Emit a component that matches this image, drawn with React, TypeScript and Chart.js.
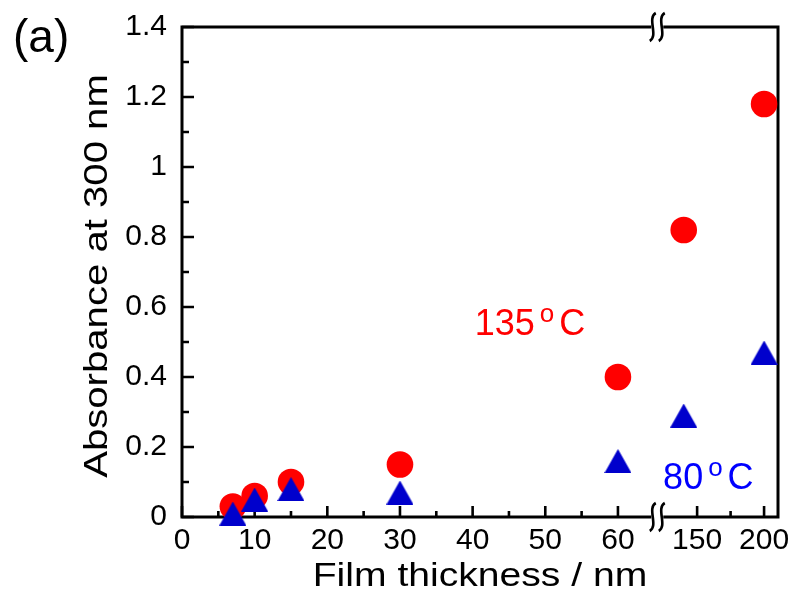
import React, { useEffect, useRef } from 'react';
import { Chart, registerables, LinearScale } from 'chart.js';

const FONT = '"Liberation Sans", Arial, Helvetica, sans-serif';

// ---- data (film thickness in nm, absorbance at 300 nm) ----
const thickness = [7, 10, 15, 30, 60, 140, 200];
const abs135 = [0.03, 0.06, 0.1, 0.15, 0.4, 0.82, 1.18];
const abs80 = [0.01, 0.05, 0.08, 0.07, 0.16, 0.29, 0.47];

// ---- axis ticks ----
const xMajorTicks = [0, 10, 20, 30, 40, 50, 60, 150, 200];
const xMinorTicks = [5, 15, 25, 35, 45, 55, 175];
const yMajorTicks = [0, 0.2, 0.4, 0.6, 0.8, 1, 1.2, 1.4];
const yMinorTicks = [0.1, 0.3, 0.5, 0.7, 0.9, 1.1, 1.3];
const xBreak = [65, 118];
const xRange = [0, 210.4];
const yRange = [0, 1.4];
const upperDensity = 0.1843; // relative axis density after the break

const labels = ['135', '80'];
const labelColors = ['#FF0000', '#0000FF'];
const labelAnchors = [
  { x: 40.3, y: 0.52 },
  { x: 124.6, y: 0.08 },
];

function toVirtual(v: number) {
  if (v <= xBreak[0]) return v;
  if (v >= xBreak[1]) return xBreak[0] + (v - xBreak[1]) * upperDensity;
  return xBreak[0];
}

class BrokenLinearScale extends LinearScale {
  static id = 'brokenLinear';
  static defaults = {};
  getPixelForValue(value: number) {
    const vmin = toVirtual(this.min);
    const vmax = toVirtual(this.max);
    return this.getPixelForDecimal((toVirtual(value) - vmin) / (vmax - vmin));
  }
  getValueForPixel(pixel: number) {
    const vmin = toVirtual(this.min);
    const vmax = toVirtual(this.max);
    const v = vmin + this.getDecimalForPixel(pixel) * (vmax - vmin);
    return v <= xBreak[0] ? v : xBreak[1] + (v - xBreak[0]) / upperDensity;
  }
  buildTicks() {
    return xMajorTicks.map((value) => ({ value }));
  }
}

Chart.register(...registerables, BrokenLinearScale);

function makeTriangle(color: string, w: number, h: number) {
  const c = document.createElement('canvas');
  c.width = w;
  c.height = h;
  const g = c.getContext('2d')!;
  g.fillStyle = color;
  g.beginPath();
  g.moveTo(w / 2, 0);
  g.lineTo(w, h);
  g.lineTo(0, h);
  g.closePath();
  g.fill();
  return c;
}

function drawBreak(ctx: CanvasRenderingContext2D, cx: number, cy: number) {
  ctx.save();
  ctx.fillStyle = '#fff';
  ctx.fillRect(cx - 6, cy - 3, 12, 6);
  ctx.strokeStyle = '#000';
  ctx.lineWidth = 2.6;
  for (const dx of [-4.5, 4.5]) {
    ctx.beginPath();
    ctx.moveTo(cx + dx + 3, cy - 14);
    ctx.bezierCurveTo(cx + dx - 6, cy - 9, cx + dx + 6, cy + 9, cx + dx - 3, cy + 14);
    ctx.stroke();
  }
  ctx.restore();
}

const framePlugin = {
  id: 'frame',
  beforeDatasetsDraw(chart: any) {
    const { ctx, chartArea: a, scales } = chart;
    const x = scales.x;
    const y = scales.y;
    ctx.save();
    ctx.strokeStyle = '#000';
    ctx.lineWidth = 2.6;
    ctx.beginPath();
    xMajorTicks.forEach((v) => {
      const px = x.getPixelForValue(v);
      ctx.moveTo(px, a.bottom);
      ctx.lineTo(px, a.bottom - 11);
    });
    xMinorTicks.forEach((v) => {
      const px = x.getPixelForValue(v);
      ctx.moveTo(px, a.bottom);
      ctx.lineTo(px, a.bottom - 6);
    });
    yMajorTicks.forEach((v) => {
      const py = y.getPixelForValue(v);
      ctx.moveTo(a.left, py);
      ctx.lineTo(a.left + 12, py);
    });
    yMinorTicks.forEach((v) => {
      const py = y.getPixelForValue(v);
      ctx.moveTo(a.left, py);
      ctx.lineTo(a.left + 7, py);
    });
    ctx.stroke();
    ctx.lineWidth = 3;
    ctx.strokeRect(a.left, a.top, a.right - a.left, a.bottom - a.top);
    const bx = x.getPixelForValue(xBreak[0]) + 3;
    drawBreak(ctx, bx, a.top);
    drawBreak(ctx, bx, a.bottom);
    ctx.restore();
  },
  afterDraw(chart: any) {
    const { ctx, chartArea: a, scales } = chart;
    const x = scales.x;
    const y = scales.y;
    ctx.save();
    ctx.fillStyle = '#000';
    ctx.textBaseline = 'alphabetic';
    // panel label
    ctx.font = `46px ${FONT}`;
    ctx.textAlign = 'left';
    ctx.fillText('(a)', 13, 52);
    // x title
    ctx.save();
    ctx.font = `34px ${FONT}`;
    ctx.textAlign = 'center';
    ctx.translate((a.left + a.right) / 2, a.bottom + 69);
    ctx.scale(1.15, 1);
    ctx.fillText('Film thickness / nm', 0, 0);
    ctx.restore();
    // y title
    ctx.save();
    ctx.font = `34px ${FONT}`;
    ctx.textAlign = 'center';
    ctx.translate(a.left - 75, (a.top + a.bottom) / 2 + 4);
    ctx.rotate(-Math.PI / 2);
    ctx.scale(1.18, 1);
    ctx.fillText('Absorbance at 300 nm', 0, 0);
    ctx.restore();
    // temperature labels
    labels.forEach((num, i) => {
      let px = x.getPixelForValue(labelAnchors[i].x);
      const py = y.getPixelForValue(labelAnchors[i].y);
      ctx.fillStyle = labelColors[i];
      ctx.textAlign = 'left';
      ctx.font = `36px ${FONT}`;
      ctx.fillText(num, px, py);
      px += ctx.measureText(num).width + 5;
      ctx.font = `26px ${FONT}`;
      ctx.fillText('o', px, py - 13);
      px += ctx.measureText('o').width + 5;
      ctx.font = `36px ${FONT}`;
      ctx.fillText('C', px, py);
    });
    ctx.restore();
  },
};

export default function App() {
  const ref = useRef<HTMLCanvasElement>(null);
  useEffect(() => {
    const canvas = ref.current!;
    const triangle = makeTriangle('#0000CC', 27, 24);
    const chart = new Chart(canvas, {
      type: 'scatter',
      data: {
        datasets: [
          {
            label: '80 °C',
            data: thickness.map((t, i) => ({ x: t, y: abs80[i] })),
            pointStyle: triangle as any,
            pointRadius: 14,
            backgroundColor: '#0000CC',
            borderWidth: 0,
            order: 0,
            clip: false as any,
          },
          {
            label: '135 °C',
            data: thickness.map((t, i) => ({ x: t, y: abs135[i] })),
            pointStyle: 'circle',
            pointRadius: 13.3,
            backgroundColor: '#FF0000',
            borderWidth: 0,
            order: 1,
            clip: false as any,
          },
        ],
      },
      options: {
        animation: false,
        responsive: false,
        maintainAspectRatio: false,
        events: [],
        layout: { padding: { left: 0, top: 27, right: 17, bottom: 0 } },
        plugins: { legend: { display: false }, tooltip: { enabled: false } },
        scales: {
          x: {
            type: 'brokenLinear' as any,
            min: xRange[0],
            max: xRange[1],
            grid: { display: false, drawTicks: false },
            border: { display: false },
            ticks: {
              autoSkip: false,
              maxRotation: 0,
              minRotation: 0,
              padding: 6,
              color: '#000',
              font: { family: FONT, size: 30 },
              callback: (v: any) => String(v),
            },
            afterFit: (s: any) => {
              s.height = 79;
              s.paddingLeft = 0;
              s.paddingRight = 0;
              s.paddingTop = 0;
              s.paddingBottom = 0;
            },
          },
          y: {
            type: 'linear',
            min: yRange[0],
            max: yRange[1],
            afterBuildTicks: (s: any) => {
              s.ticks = yMajorTicks.map((value) => ({ value }));
            },
            grid: { display: false, drawTicks: false },
            border: { display: false },
            ticks: {
              padding: 15,
              color: '#000',
              font: { family: FONT, size: 30 },
              callback: (v: any) => String(Math.round(Number(v) * 10) / 10),
            },
            afterFit: (s: any) => {
              s.width = 182;
              s.paddingLeft = 0;
              s.paddingRight = 0;
              s.paddingTop = 0;
              s.paddingBottom = 0;
            },
          },
        },
      } as any,
      plugins: [framePlugin],
    });
    return () => chart.destroy();
  }, []);
  return (
    <div style={{ position: 'fixed', left: 0, top: 0, width: 795, height: 596, background: '#fff' }}>
      <canvas ref={ref} width={795} height={596} style={{ display: 'block' }} />
    </div>
  );
}
